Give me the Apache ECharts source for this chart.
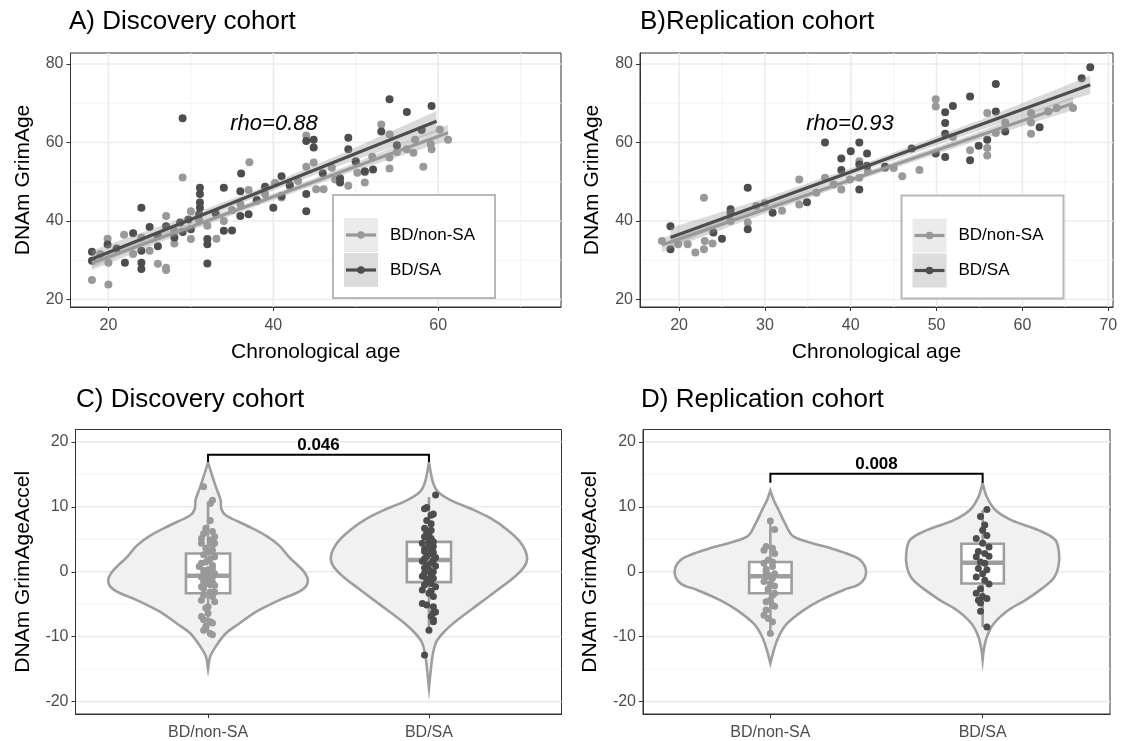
<!DOCTYPE html>
<html>
<head>
<meta charset="utf-8">
<script src="https://cdn.jsdelivr.net/npm/echarts@6/dist/echarts.min.js"></script>
<style>
html, body { margin: 0; padding: 0; background: #fff; }
#main { width: 1124px; height: 741px; }
</style>
</head>
<body>
<div id="main"></div>
<script>
// groups and tick labels
const groups = ['BD/non-SA', 'BD/SA'];
const xTicksA = [20, 40, 60], xMinorA = [30, 50, 70];
const xTicksB = [20, 30, 40, 50, 60, 70], xMinorB = [25, 35, 45, 55, 65];
const yTicksAB = [20, 40, 60, 80], yMinorAB = [30, 50, 70];
const yTicksCD = [-20, -10, 0, 10, 20], yMinorCD = [-15, -5, 5, 15];
const catTicks = [1, 2];

// A) discovery cohort, chronological age vs GrimAge
const scatterA_nonSA = [[18,25.0],[20,23.8],[19.9,35.5],[20,29.4],[19,31.6],[21.9,36.5],[23,31.6],[24,35.8],[25,32.4],[26,29.1],[27,28.1],[27,27.5],[27,41.3],[28,34.3],[28,37.5],[29,51.1],[30,35.4],[30,42.5],[31,40.2],[32,38.8],[33.1,35.5],[34,40.0],[35,42.8],[36,44.3],[37.1,55.0],[37,47.9],[38,45.5],[39,46.8],[40.2,49.7],[41,46.0],[42,48.8],[43,50.2],[44,61.8],[44,53.8],[44.9,54.9],[45.2,48.1],[46.1,48.1],[47.1,53.6],[47.5,50.6],[49.1,49.0],[50.2,52.3],[50,55.0],[51.1,52.4],[51.1,49.8],[52,56.4],[53.1,64.6],[54.1,62.1],[54.1,56.2],[54.1,53.4],[55,57.6],[56.2,58.3],[57.2,60.7],[57,57.4],[58.2,53.8],[59.2,58.3],[60.2,63.3],[61.2,60.7],[59.1,59.6]];
const scatterA_SA = [[18,32.2],[18,29.9],[19.9,34.0],[21,33.0],[22,29.4],[23,36.9],[24,32.4],[24,29.4],[24,27.8],[24,43.4],[25,38.5],[26,33.6],[26,36.2],[27,38.7],[28,35.8],[28.7,39.6],[29,66.2],[29.7,40.4],[29,37.2],[30,37.9],[31.1,48.5],[31.1,46.9],[31.1,44.7],[31.1,43.4],[31,41.7],[32,35.4],[32,34.1],[32,29.2],[33,42.0],[34,48.5],[34,37.5],[35,37.6],[36.1,52.1],[36,47.6],[36,41.3],[37,41.7],[38,45.2],[39,48.7],[40,43.4],[41,51.4],[41,46.4],[42,49.2],[44,60.4],[44.9,60.7],[44.9,58.7],[44,46.9],[44,42.5],[46,52.2],[48.1,50.9],[48.1,49.8],[49.1,61.2],[49.1,58.3],[50,55.2],[51.1,52.7],[52.1,53.1],[53.1,62.8],[54.1,71.0],[55,59.3],[56.2,67.8],[58,63.2],[59.2,69.3]];
const fitA_nonSA = [[18, 29.3], [61.2, 62.5]];
const fitA_SA = [[18, 30.3], [59.8, 65.4]];
const bandA_nonSA_x = [18, 28, 39, 50, 61.2], bandA_nonSA_lo = [27.5, 36.0, 44.6, 52.9, 60.5], bandA_nonSA_hi = [31.1, 38.0, 46.2, 54.9, 64.5];
const bandA_SA_x = [18, 28, 38, 48, 59.8], bandA_SA_lo = [28.1, 37.4, 46.2, 54.1, 62.7], bandA_SA_hi = [32.5, 40.0, 48.0, 56.9, 68.0];

// B) replication cohort
const scatterB_nonSA = [[18,34.9],[19.9,34.1],[21,34.1],[21.9,32.0],[22.9,45.9],[22.9,32.8],[23,34.9],[23.9,34.3],[26,40.0],[28,39.6],[29,43.8],[30,44.5],[32,42.6],[34,50.6],[34,44.2],[36,47.2],[37,51.0],[38,49.3],[38.9,48.0],[39.9,50.6],[41,55.2],[41,51.0],[42,52.6],[44,53.5],[45,53.5],[46,51.4],[48,53.0],[49.9,71.0],[49.9,69.2],[51.9,61.4],[53.9,58.0],[55.9,67.5],[55.9,58.6],[55.9,56.7],[56.9,62.4],[58,65.1],[61,67.5],[61,65.1],[61,62.2],[63,67.9],[64,68.8],[65.9,68.8]];
const scatterB_SA = [[19,38.7],[19,32.8],[24,37.1],[25,35.5],[26,43.0],[26,42.1],[28,48.5],[28,37.9],[30.9,42.1],[34.9,44.8],[37,60.0],[38.9,55.9],[38.9,53.0],[40,57.8],[41,60.0],[41,54.4],[41,48.0],[41.9,57.2],[41.9,54.1],[44,53.8],[47.1,58.5],[49.9,57.2],[51,67.7],[51,65.0],[51,62.2],[51,56.3],[51.9,69.3],[53.9,71.7],[53.9,55.5],[54.9,59.2],[55.9,60.7],[56.9,74.9],[56.9,67.9],[58,62.8],[62,63.9],[66.9,76.4],[67.9,79.2]];
const fitB_nonSA = [[18, 33.9], [65.9, 70.0]];
const fitB_SA = [[19, 35.8], [67.9, 74.7]];
const bandB_nonSA_x = [18, 30, 42, 54, 65.9], bandB_nonSA_lo = [32.1, 41.9, 51.2, 60.0, 68.3], bandB_nonSA_hi = [35.7, 43.9, 52.8, 62.0, 71.7];
const bandB_SA_x = [19, 30, 42, 55, 67.9], bandB_SA_lo = [33.4, 43.3, 53.2, 63.1, 72.4], bandB_SA_hi = [38.2, 45.8, 55.0, 65.7, 77.0];

// C) violin outlines: value, half width
const violinC_nonSA_y = [16.8, 13.1, 11.0, 9.7, 8.7, 7.2, 5.6, 4.1, 2.3, 0, -1.5, -2.8, -4.4, -6.2, -8.0, -9.5, -11.5, -13.1, -15.0];
const violinC_nonSA_w = [0, 0.035, 0.057, 0.06, 0.08, 0.17, 0.26, 0.32, 0.366, 0.434, 0.452, 0.426, 0.32, 0.215, 0.14, 0.08, 0.035, 0.009, 0];
const violinC_SA_y = [16.8, 13.8, 12.3, 11.0, 9.7, 8.2, 6.4, 4.4, 2.3, 0.8, -0.8, -2.8, -5.1, -7.4, -9.2, -10.8, -12.6, -14.6, -17.9];
const violinC_SA_w = [0, 0.018, 0.041, 0.10, 0.19, 0.28, 0.357, 0.417, 0.444, 0.432, 0.387, 0.31, 0.22, 0.13, 0.07, 0.033, 0.018, 0.01, 0];
// box: min, Q1, median, Q3, max
const boxC = [[-9.5, -3.3, -0.6, 2.8, 10.6], [-9.0, -1.6, 1.8, 4.6, 11.5]];
const jitterC_nonSA = [[0.98,13.1],[1.02,11.0],[1.01,10.5],[1.01,7.9],[0.99,6.7],[1.02,6.2],[0.98,5.9],[1.03,5.4],[0.97,5.1],[1.01,4.9],[0.97,4.4],[1.03,4.4],[1.02,4.1],[0.99,3.6],[1.02,3.3],[1.00,3.0],[0.98,2.6],[1.03,2.3],[1.01,2.0],[1.00,1.8],[0.99,1.5],[0.97,1.3],[1.02,1.0],[0.96,0.8],[1.02,0.5],[1.00,0.3],[0.98,0.2],[1.00,0.0],[1.03,-0.3],[0.98,-0.5],[0.97,-0.8],[1.02,-0.8],[1.00,-1.0],[1.01,-1.3],[0.98,-1.5],[1.02,-1.6],[0.99,-1.8],[1.03,-2.1],[0.97,-2.3],[1.01,-2.0],[0.98,-2.6],[1.01,-3.1],[1.03,-3.1],[0.98,-3.6],[1.02,-3.8],[0.97,-4.4],[1.03,-4.6],[1.00,-5.4],[0.99,-5.6],[1.00,-6.4],[0.97,-6.9],[0.98,-7.4],[1.01,-7.7],[1.02,-7.9],[0.99,-8.4],[0.98,-9.0],[1.02,-9.7],[1.01,-9.5]];
const jitterC_SA = [[2.03,11.8],[1.99,9.9],[1.98,9.7],[2.02,8.9],[2.01,8.7],[1.99,7.9],[2.01,7.4],[1.98,6.7],[2.01,6.4],[1.99,6.0],[2.00,5.8],[1.98,5.4],[2.01,5.1],[2.00,4.8],[2.02,4.6],[1.97,4.4],[2.00,4.1],[2.02,3.9],[1.98,3.5],[2.01,3.3],[1.98,3.1],[2.02,3.0],[2.01,2.8],[1.99,2.4],[2.03,2.2],[1.98,2.0],[2.02,1.8],[1.97,1.6],[2.01,1.3],[1.99,1.0],[2.03,0.9],[1.98,0.6],[2.00,0.3],[2.02,0.0],[1.98,-0.2],[2.01,-0.5],[1.97,-0.7],[2.02,-1.0],[1.99,-1.2],[2.00,-1.4],[2.01,-1.8],[1.98,-2.0],[2.03,-2.3],[1.97,-2.8],[2.01,-3.0],[2.00,-3.3],[2.02,-3.8],[1.97,-4.9],[1.99,-5.1],[2.02,-5.4],[2.03,-6.2],[2.02,-6.3],[2.01,-6.9],[2.02,-7.4],[2.02,-7.7],[2.00,-9.0],[1.98,-12.8]];
const sigC = {label: '0.046', foot: 16.9, top: 18.0};

// D)
const violinD_nonSA_y = [12.5, 11.0, 9.5, 7.4, 5.4, 3.8, 2.8, 1.8, 0, -1.8, -2.8, -4.4, -5.9, -8.0, -10.0, -12.1, -14.1];
const violinD_nonSA_w = [0, 0.016, 0.039, 0.07, 0.11, 0.266, 0.36, 0.423, 0.451, 0.423, 0.345, 0.235, 0.157, 0.078, 0.039, 0.016, 0];
const violinD_SA_y = [13.6, 11.5, 9.5, 7.9, 6.4, 4.9, 2.8, 0.8, -1.0, -2.6, -4.4, -5.9, -8.0, -10.0, -12.1, -13.6];
const violinD_SA_w = [0, 0.02, 0.06, 0.138, 0.263, 0.342, 0.36, 0.357, 0.334, 0.279, 0.2, 0.122, 0.052, 0.02, 0.005, 0];
const boxD = [[-9.5, -3.3, -0.7, 1.5, 7.9], [-8.5, -1.8, 1.4, 4.3, 9.5]];
const jitterD_nonSA = [[1.00,7.8],[1.02,6.5],[0.98,3.9],[1.01,3.6],[0.97,3.3],[1.02,2.8],[0.99,1.8],[1.01,1.5],[0.97,1.3],[1.01,0.8],[0.98,0.4],[0.98,0.0],[1.02,-0.3],[0.99,-0.5],[0.98,-0.8],[1.01,-1.0],[0.97,-1.5],[1.00,-1.8],[1.02,-2.2],[0.99,-2.6],[0.99,-2.8],[1.02,-3.3],[1.01,-3.6],[1.00,-4.4],[0.98,-4.6],[1.01,-5.1],[1.02,-5.3],[0.98,-5.9],[0.97,-6.7],[0.99,-7.2],[1.01,-7.7],[1.00,-9.5]];
const jitterD_SA = [[2.02,9.6],[1.99,8.5],[2.01,7.2],[2.00,6.4],[2.02,5.6],[1.97,5.1],[2.00,4.4],[2.03,3.8],[1.98,3.1],[2.01,2.8],[2.03,2.4],[1.97,2.3],[1.99,1.5],[2.01,1.3],[1.98,0.5],[2.02,0.3],[2.00,-0.3],[1.97,-0.8],[2.01,-1.3],[2.03,-1.9],[1.99,-2.6],[1.97,-3.3],[2.00,-3.8],[2.02,-4.1],[1.98,-4.4],[1.99,-4.8],[1.99,-6.1],[2.02,-8.5]];
const sigD = {label: '0.008', foot: 13.7, top: 15.1};

const FONT = '"Liberation Sans", Arial, Helvetica, sans-serif';
const GRAY = '#999999', DARK = '#4D4D4D', OUT = '#9E9E9E';

function gridLines(i, xMaj, xMin, yMaj, yMin) {
    const data = [];
    xMin.forEach(v => data.push([0, v, 0]));
    yMin.forEach(v => data.push([1, v, 0]));
    xMaj.forEach(v => data.push([0, v, 1]));
    yMaj.forEach(v => data.push([1, v, 1]));
    return {
        type: 'custom', xAxisIndex: i, yAxisIndex: i, silent: true, z: 0, data: data,
        renderItem: function (params, api) {
            const cs = params.coordSys;
            const v = api.value(1);
            const major = api.value(2) === 1;
            let shape;
            if (api.value(0) === 0) {
                const x = api.coord([v, 0])[0];
                shape = {x1: x, y1: cs.y, x2: x, y2: cs.y + cs.height};
            } else {
                const y = api.coord([0, v])[1];
                shape = {x1: cs.x, y1: y, x2: cs.x + cs.width, y2: y};
            }
            return {type: 'line', shape: shape, style: {stroke: major ? '#EBEBEB' : '#F3F3F3', lineWidth: major ? 1.6 : 1}};
        }
    };
}

function band(i, xs, lo, hi) {
    return {
        type: 'custom', xAxisIndex: i, yAxisIndex: i, silent: true, z: 3,
        data: [[xs[0], lo[0]]],
        renderItem: function (params, api) {
            const pts = [];
            xs.forEach((x, k) => pts.push(api.coord([x, hi[k]])));
            for (let k = xs.length - 1; k >= 0; k--) pts.push(api.coord([xs[k], lo[k]]));
            return {type: 'polygon', shape: {points: pts}, style: {fill: 'rgba(150,150,150,0.35)'}};
        }
    };
}

function scatter(i, data, color, size) {
    return {type: 'scatter', xAxisIndex: i, yAxisIndex: i, data: data, symbolSize: size, z: 2, silent: true,
        itemStyle: {color: color, opacity: 1}};
}

function fitLine(i, data, color) {
    return {type: 'line', xAxisIndex: i, yAxisIndex: i, data: data, showSymbol: false, z: 4, silent: true,
        lineStyle: {color: color, width: 3.2}};
}

function violin(i, center, ys, ws) {
    return {
        type: 'custom', xAxisIndex: i, yAxisIndex: i, silent: true, z: 2,
        data: [[center, ys[0]]],
        renderItem: function (params, api) {
            const pts = [];
            ys.forEach((y, k) => pts.push(api.coord([center + ws[k], y])));
            for (let k = ys.length - 1; k >= 0; k--) pts.push(api.coord([center - ws[k], ys[k]]));
            return {type: 'polygon', shape: {points: pts, smooth: 0.35},
                style: {fill: '#F1F1F1', stroke: OUT, lineWidth: 2.6}};
        }
    };
}

function boxes(i, stats) {
    return {
        type: 'custom', xAxisIndex: i, yAxisIndex: i, silent: true, z: 3,
        data: stats.map((s, k) => [k + 1].concat(s)),
        renderItem: function (params, api) {
            const c = api.value(0);
            const lo = api.value(1), q1 = api.value(2), med = api.value(3), q3 = api.value(4), hi = api.value(5);
            const hw = 0.1;
            const tl = api.coord([c - hw, q3]), br = api.coord([c + hw, q1]);
            const ln = {stroke: OUT, lineWidth: 2.6};
            const top = api.coord([c, hi]), upq = api.coord([c, q3]);
            const bot = api.coord([c, lo]), loq = api.coord([c, q1]);
            const ml = api.coord([c - hw, med]), mr = api.coord([c + hw, med]);
            return {type: 'group', children: [
                {type: 'line', shape: {x1: top[0], y1: top[1], x2: upq[0], y2: upq[1]}, style: ln},
                {type: 'line', shape: {x1: bot[0], y1: bot[1], x2: loq[0], y2: loq[1]}, style: ln},
                {type: 'rect', shape: {x: tl[0], y: tl[1], width: br[0] - tl[0], height: br[1] - tl[1]},
                    style: {fill: '#fff', stroke: OUT, lineWidth: 2.6}},
                {type: 'line', shape: {x1: ml[0], y1: ml[1], x2: mr[0], y2: mr[1]}, style: {stroke: OUT, lineWidth: 4.5}}
            ]};
        }
    };
}

function bracket(i, sig) {
    return {
        type: 'custom', xAxisIndex: i, yAxisIndex: i, silent: true, z: 5,
        data: [[1.5, sig.top]],
        renderItem: function (params, api) {
            const a = api.coord([1, sig.foot]), b = api.coord([1, sig.top]);
            const c = api.coord([2, sig.top]), d = api.coord([2, sig.foot]);
            const m = api.coord([1.5, sig.top]);
            return {type: 'group', children: [
                {type: 'polyline', shape: {points: [a, b, c, d]}, style: {stroke: '#000', lineWidth: 2, fill: null}},
                {type: 'text', x: m[0], y: m[1] - 1, style: {text: sig.label, fill: '#000',
                    font: 'bold 17px ' + FONT, align: 'center', verticalAlign: 'bottom'}}
            ]};
        }
    };
}

function xAxis(i, min, max, ticks, name, fmt, size) {
    return {
        gridIndex: i, type: 'value', min: min, max: max,
        axisLine: {show: true, onZero: false, lineStyle: {color: '#333', width: 1}},
        splitLine: {show: false},
        axisTick: {show: true, length: 4, lineStyle: {color: '#333', width: 1}, customValues: ticks},
        axisLabel: {customValues: ticks, color: '#4D4D4D', fontSize: size, fontFamily: FONT, margin: 11, formatter: fmt},
        name: name, nameLocation: 'middle', nameGap: 35,
        nameTextStyle: {fontSize: 21, color: '#000', fontFamily: FONT}
    };
}

function yAxis(i, min, max, ticks, name, gap) {
    return {
        gridIndex: i, type: 'value', min: min, max: max,
        axisLine: {show: true, onZero: false, lineStyle: {color: '#333', width: 1}},
        splitLine: {show: false},
        axisTick: {show: true, length: 4, lineStyle: {color: '#333', width: 1}, customValues: ticks},
        axisLabel: {customValues: ticks, color: '#4D4D4D', fontSize: 16, fontFamily: FONT, margin: 7},
        name: name, nameLocation: 'middle', nameRotate: 90, nameGap: gap,
        nameTextStyle: {fontSize: 21, color: '#000', fontFamily: FONT}
    };
}

function legendBox(x0, y0) {
    const rows = [[groups[0], GRAY, '#EBEBEB'], [groups[1], DARK, '#DCDCDC']];
    const out = [{type: 'rect', shape: {x: x0, y: y0, width: 162, height: 103}, z: 100,
        style: {fill: '#fff', stroke: '#B8B8B8', lineWidth: 2}}];
    rows.forEach((r, k) => {
        const cy = y0 + 40 + k * 35;
        out.push({type: 'rect', shape: {x: x0 + 11, y: cy - 17, width: 34, height: 34}, z: 101, style: {fill: r[2]}});
        out.push({type: 'line', shape: {x1: x0 + 13, y1: cy, x2: x0 + 43, y2: cy}, z: 102, style: {stroke: r[1], lineWidth: 3.2}});
        out.push({type: 'circle', shape: {cx: x0 + 28, cy: cy, r: 3.8}, z: 103, style: {fill: r[1]}});
        out.push({type: 'text', x: x0 + 57, y: cy, z: 103, style: {text: r[0], fill: '#000',
            font: '17px ' + FONT, verticalAlign: 'middle'}});
    });
    return out;
}

const catFmt = v => groups[Math.round(v) - 1];
const titleStyle = {fontSize: 26, fontWeight: 'normal', color: '#000', fontFamily: FONT};

const option = {
    animation: false,
    backgroundColor: '#fff',
    title: [
        {text: 'A) Discovery cohort', left: 69, top: 9, padding: 0, textStyle: titleStyle},
        {text: 'B)Replication cohort', left: 640, top: 9, padding: 0, textStyle: titleStyle},
        {text: 'C) Discovery cohort', left: 76, top: 387, padding: 0, textStyle: titleStyle},
        {text: 'D) Replication cohort', left: 641, top: 387, padding: 0, textStyle: titleStyle}
    ],
    grid: [
        {left: 70.5, top: 53, width: 490.5, height: 254, show: true, borderColor: '#333', borderWidth: 1, backgroundColor: '#fff', outerBoundsMode: 'none'},
        {left: 640, top: 53, width: 473, height: 254, show: true, borderColor: '#333', borderWidth: 1, backgroundColor: '#fff', outerBoundsMode: 'none'},
        {left: 75.5, top: 429.5, width: 486, height: 284.5, show: true, borderColor: '#333', borderWidth: 1, backgroundColor: '#fff', outerBoundsMode: 'none'},
        {left: 643, top: 429.5, width: 467, height: 284.5, show: true, borderColor: '#333', borderWidth: 1, backgroundColor: '#fff', outerBoundsMode: 'none'}
    ],
    xAxis: [
        xAxis(0, 15.4, 74.9, xTicksA, 'Chronological age', null, 16),
        xAxis(1, 15.45, 70.55, xTicksB, 'Chronological age', null, 16),
        xAxis(2, 0.4, 2.6, catTicks, '', catFmt, 16),
        xAxis(3, 0.4, 2.6, catTicks, '', catFmt, 16)
    ],
    yAxis: [
        yAxis(0, 18.1, 82.8, yTicksAB, 'DNAm GrimAge', 37),
        yAxis(1, 18.1, 82.8, yTicksAB, 'DNAm GrimAge', 37),
        yAxis(2, -21.9, 21.9, yTicksCD, 'DNAm GrimAgeAccel', 42),
        yAxis(3, -21.9, 21.9, yTicksCD, 'DNAm GrimAgeAccel', 42)
    ],
    graphic: [
        {type: 'text', x: 274, y: 124, z: 50, style: {text: 'rho=0.88', fill: '#000', font: 'italic 22px ' + FONT, align: 'center', verticalAlign: 'middle'}},
        {type: 'text', x: 850, y: 124, z: 50, style: {text: 'rho=0.93', fill: '#000', font: 'italic 22px ' + FONT, align: 'center', verticalAlign: 'middle'}}
    ].concat(legendBox(333, 195), legendBox(901.5, 195.5)),
    series: [
        gridLines(0, xTicksA, xMinorA, yTicksAB, yMinorAB),
        gridLines(1, xTicksB, xMinorB, yTicksAB, yMinorAB),
        gridLines(2, [], [], yTicksCD, yMinorCD),
        gridLines(3, [], [], yTicksCD, yMinorCD),

        scatter(0, scatterA_nonSA, GRAY, 8),
        scatter(0, scatterA_SA, DARK, 8),
        band(0, bandA_nonSA_x, bandA_nonSA_lo, bandA_nonSA_hi),
        band(0, bandA_SA_x, bandA_SA_lo, bandA_SA_hi),
        fitLine(0, fitA_nonSA, GRAY),
        fitLine(0, fitA_SA, DARK),

        scatter(1, scatterB_nonSA, GRAY, 8),
        scatter(1, scatterB_SA, DARK, 8),
        band(1, bandB_nonSA_x, bandB_nonSA_lo, bandB_nonSA_hi),
        band(1, bandB_SA_x, bandB_SA_lo, bandB_SA_hi),
        fitLine(1, fitB_nonSA, GRAY),
        fitLine(1, fitB_SA, DARK),

        violin(2, 1, violinC_nonSA_y, violinC_nonSA_w),
        violin(2, 2, violinC_SA_y, violinC_SA_w),
        boxes(2, boxC),
        Object.assign(scatter(2, jitterC_nonSA, GRAY, 7), {z: 4}),
        Object.assign(scatter(2, jitterC_SA, DARK, 7), {z: 4}),
        bracket(2, sigC),

        violin(3, 1, violinD_nonSA_y, violinD_nonSA_w),
        violin(3, 2, violinD_SA_y, violinD_SA_w),
        boxes(3, boxD),
        Object.assign(scatter(3, jitterD_nonSA, GRAY, 7), {z: 4}),
        Object.assign(scatter(3, jitterD_SA, DARK, 7), {z: 4}),
        bracket(3, sigD)
    ]
};

echarts.init(document.getElementById('main')).setOption(option);
</script>
</body>
</html>
